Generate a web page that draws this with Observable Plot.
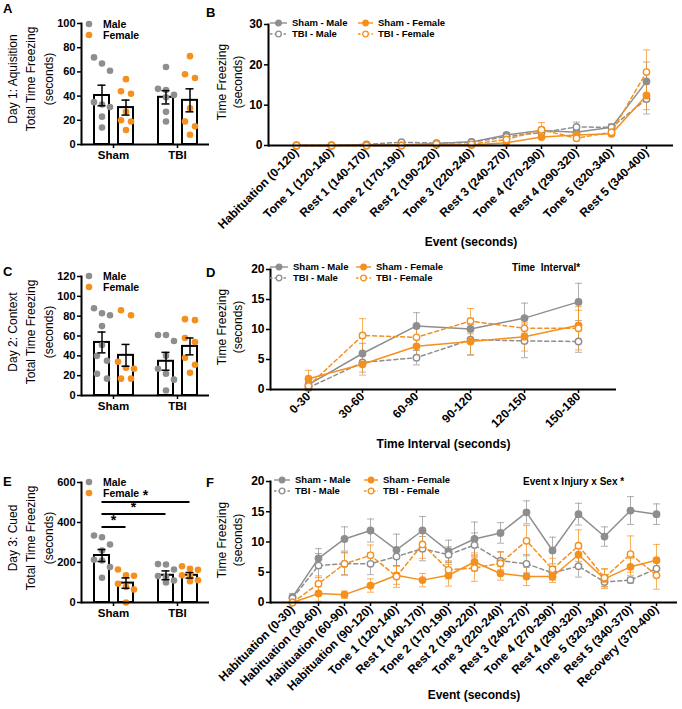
<!DOCTYPE html>
<html><head><meta charset="utf-8">
<script src="https://cdn.jsdelivr.net/npm/d3@7"></script>
<script src="https://cdn.jsdelivr.net/npm/@observablehq/plot@0.6"></script>
<style>
body{margin:0;background:#fff;}
#fig{position:relative;width:682px;height:709px;background:#fff;font-family:"Liberation Sans",Arial,sans-serif;overflow:hidden;color:#000}
.letter{position:absolute;font-weight:bold;font-size:13px;line-height:13px}
.leg{position:absolute;font-weight:bold;font-size:9.5px;line-height:10px;white-space:pre;display:flex;align-items:center}
.ytitle{position:absolute;transform:rotate(-90deg);text-align:center;font-size:12px;white-space:pre;}
</style></head><body><div id="fig"></div><script>
const GRAY = "#8e8e8e", ORANGE = "#f5901e";
const FONT = "'Liberation Sans', Arial, sans-serif";
const injuries = ["Sham", "TBI"];
const sexes = ["Male", "Female"];

// ---------- Panel A: Day 1 acquisition (total) ----------
const acqShamMale = [72, 67, 61, 35, 33, 31, 23, 14];
const acqShamFemale = [54, 44, 42, 27, 20, 19, 12];
const acqTbiMale = [64, 46, 45, 41, 39, 27, 19];
const acqTbiFemale = [73, 58, 55, 30, 19, 15, 8];
const acqMeans = [40.5, 30.5, 39, 36.5];   // Sham M, Sham F, TBI M, TBI F
const acqSems = [8.5, 6.2, 5.5, 9.5];
const acqTicks = [0, 20, 40, 60, 80, 100];

// ---------- Panel C: Day 2 context (total) ----------
const ctxShamMale = [88, 83, 81, 70, 51, 40, 35, 22, 17];
const ctxShamFemale = [86, 81, 34, 28, 27, 17, 17];
const ctxTbiMale = [61, 61, 55, 40, 27, 22, 16, 5];
const ctxTbiFemale = [77, 76, 58, 54, 38, 31, 23];
const ctxMeans = [53.5, 40.5, 34.5, 49.5];
const ctxSems = [10.5, 11, 9, 8.5];
const ctxTicks = [0, 20, 40, 60, 80, 100, 120];

// ---------- Panel E: Day 3 cued (total) ----------
const cueShamMale = [335, 326, 290, 260, 214, 210, 177, 124];
const cueShamFemale = [165, 136, 134, 94, 78, 65, 0];
const cueTbiMale = [192, 190, 165, 132, 128, 110, 100];
const cueTbiFemale = [181, 169, 164, 136, 134, 111, 106];
const cueMeans = [235, 97, 136, 136];
const cueSems = [30, 26, 22, 14];
const cueTicks = [0, 200, 400, 600];
const cueSigLevels = [375, 440, 500];          // y levels of the comparison bars
const cueSigTargets = [["Sham", "Female"], ["TBI", "Male"], ["TBI", "Female"]];

// ---------- Panel B: Day 1 by event ----------
const acqEvents = ["Habituation (0-120)", "Tone 1 (120-140)", "Rest 1 (140-170)", "Tone 2 (170-190)", "Rest 2 (190-220)", "Tone 3 (220-240)", "Rest 3 (240-270)", "Tone 4 (270-290)", "Rest 4 (290-320)", "Tone 5 (320-340)", "Rest 5 (340-400)"];
const evShamMale = [0, 0, 0.2, 0.1, 0.5, 0.9, 2.6, 3.7, 3.3, 4.5, 15.9];
const evShamMaleSem = [0, 0, 0.1, 0.1, 0.2, 0.3, 0.5, 0.8, 0.8, 0.8, 4.8];
const evTbiMale = [0, 0, 0.3, 0.8, 0.6, 0.8, 2.2, 3.2, 4.6, 4.5, 11.5];
const evTbiMaleSem = [0, 0, 0.1, 0.3, 0.2, 0.3, 0.5, 0.8, 1.2, 0.8, 3.7];
const evShamFemale = [0, 0, 0, 0, 0.2, 0.1, 0.7, 2.1, 2.6, 2.9, 12.4];
const evShamFemaleSem = [0, 0, 0, 0, 0.1, 0.1, 0.3, 0.5, 0.5, 0.5, 3.5];
const evTbiFemale = [0, 0, 0, 0, 0.4, 0.3, 1.5, 3.9, 1.8, 3.3, 18.2];
const evTbiFemaleSem = [0, 0, 0, 0, 0.2, 0.1, 0.5, 1.8, 0.5, 0.8, 5.5];
const acqYTicks = [0, 10, 20, 30];

// ---------- Panel D: Day 2 by time interval ----------
const intervals = ["0-30", "30-60", "60-90", "90-120", "120-150", "150-180"];
const tiShamMale = [0.8, 6.0, 10.6, 10.1, 11.9, 14.6];
const tiShamMaleSem = [0.5, 1.7, 2.2, 1.8, 2.5, 3.1];
const tiTbiMale = [0.3, 4.5, 5.3, 8.3, 8.1, 8.0];
const tiTbiMaleSem = [0.4, 1.6, 1.2, 2.5, 2.8, 1.8];
const tiShamFemale = [1.8, 4.2, 7.2, 8.0, 8.8, 10.7];
const tiShamFemaleSem = [1.4, 1.8, 1.5, 2.3, 2.4, 2.5];
const tiTbiFemale = [0.6, 9.0, 8.7, 11.4, 10.2, 10.2];
const tiTbiFemaleSem = [0.8, 2.8, 1.6, 2.1, 1.4, 3.6];
const ctxYTicks = [0, 5, 10, 15, 20];

// ---------- Panel F: Day 3 by event ----------
const cueEvents = ["Habituation (0-30)", "Habituation (30-60)", "Habituation (60-90)", "Habituation (90-120)", "Tone 1 (120-140)", "Rest 1 (140-170)", "Tone 2 (170-190)", "Rest 2 (190-220)", "Tone 3 (220-240)", "Rest 3 (240-270)", "Tone 4 (270-290)", "Rest 4 (290-320)", "Tone 5 (320-340)", "Rest 5 (340-370)", "Recovery (370-400)"];
const ceShamMale = [0.9, 7.3, 10.5, 11.9, 8.7, 11.9, 8.5, 10.5, 11.5, 14.9, 8.6, 14.6, 10.9, 15.2, 14.6];
const ceShamMaleSem = [0.6, 1.6, 2.0, 1.9, 2.6, 2.3, 1.8, 2.8, 1.7, 1.9, 2.2, 1.8, 1.6, 2.3, 1.7];
const ceTbiMale = [0.7, 6.1, 6.4, 6.4, 7.6, 8.9, 7.9, 9.5, 6.9, 6.4, 4.9, 6.0, 3.4, 3.7, 5.6];
const ceTbiMaleSem = [0.5, 2.0, 1.8, 1.8, 1.5, 2.0, 1.3, 2.0, 1.5, 1.5, 1.0, 1.8, 0.8, 0.5, 1.0];
const ceShamFemale = [0, 1.5, 1.3, 2.8, 4.5, 3.7, 4.5, 6.7, 4.8, 4.3, 4.3, 7.9, 3.9, 5.9, 7.0];
const ceShamFemaleSem = [0.2, 1.3, 0.6, 1.1, 1.5, 1.1, 1.8, 1.5, 1.1, 1.5, 1.0, 1.7, 1.6, 1.4, 2.6];
const ceTbiFemale = [0, 3.1, 6.4, 7.8, 4.3, 9.6, 5.4, 5.7, 6.5, 10.2, 5.5, 9.4, 4.1, 8.0, 4.5];
const ceTbiFemaleSem = [0.2, 1.3, 1.9, 1.7, 1.8, 2.3, 1.5, 2.2, 1.8, 2.5, 1.8, 2.6, 1.5, 3.0, 2.3];

const seriesNames = ["Sham - Male", "TBI - Male", "Sham - Female", "TBI - Female"];
const seriesStyles = [
  {color: GRAY, dashed: false, open: false},
  {color: GRAY, dashed: true, open: true},
  {color: ORANGE, dashed: false, open: false},
  {color: ORANGE, dashed: true, open: true}
];

const fig = document.getElementById("fig");
function place(el, left, top) {
  el.style.position = "absolute"; el.style.left = left + "px"; el.style.top = top + "px";
  fig.appendChild(el); return el;
}
function letter(ch, x, y) {
  const d = document.createElement("div"); d.className = "letter"; d.textContent = ch; place(d, x, y);
}
function note(text, x, y) {
  const d = document.createElement("div"); d.className = "leg"; d.style.fontSize = "10px"; d.textContent = text; place(d, x, y - 5);
}
function yTitle(text, cx, cy, lh) {
  const n = text.split("\n").length, W = 170, H = n * lh;
  const d = document.createElement("div"); d.className = "ytitle"; d.textContent = text;
  d.style.width = W + "px"; d.style.height = H + "px"; d.style.lineHeight = lh + "px";
  place(d, cx - W / 2, cy - H / 2);
}
function dotKey(x, y, color, label) {
  const d = document.createElement("div"); d.className = "leg";
  const s = d3.create("svg").attr("width", 8).attr("height", 10);
  s.append("circle").attr("cx", 4).attr("cy", 5).attr("r", 3.3).attr("fill", color);
  d.append(s.node());
  const t = document.createElement("span"); t.textContent = label; t.style.marginLeft = "10px"; t.style.fontSize = "10.5px";
  d.append(t);
  place(d, x - 4, y - 5);
}
function lineKey(x, y, st, label, w) {
  const d = document.createElement("div"); d.className = "leg";
  const s = d3.create("svg").attr("width", w).attr("height", 10);
  s.append("line").attr("x1", 0).attr("x2", w).attr("y1", 5).attr("y2", 5)
    .attr("stroke", st.color).attr("stroke-width", 1.4).attr("stroke-dasharray", st.dashed ? "2.5,2" : null);
  s.append("circle").attr("cx", w / 2).attr("cy", 5).attr("r", 2.8)
    .attr("fill", st.open ? "white" : st.color).attr("stroke", st.color).attr("stroke-width", 1.3);
  d.append(s.node());
  const t = document.createElement("span"); t.textContent = label; t.style.marginLeft = "5px";
  d.append(t);
  place(d, x, y - 5);
}

const baseStyle = {fontFamily: FONT, fontSize: "11px", fontWeight: "bold", color: "black", background: "transparent", overflow: "visible"};
const capSymbol = {draw(ctx) { ctx.moveTo(-3.5, 0); ctx.lineTo(3.5, 0); }};

function barPanel(cfg) {
  const {left, top, height, marginTop, marginBottom, yMax, yTicks, dots, means, sems} = cfg;
  const width = 215, marginLeft = 81, marginRight = 6;
  const keys = [["Sham", "Male"], ["Sham", "Female"], ["TBI", "Male"], ["TBI", "Female"]];
  const summary = keys.map(([injury, sex], i) => ({injury, sex, mean: means[i], sem: sems[i]}));
  const pxPerUnit = (height - marginTop - marginBottom) / yMax;
  const thr = 7.5 / pxPerUnit;
  const pts = [];
  const spreads = {1: [0], 2: [-5, 5], 3: [-8, 0, 8]};
  keys.forEach(([injury, sex], i) => {
    const vals = [...dots[i]].sort((a, b) => b - a);
    let cl = [];
    const flush = () => { const o = spreads[cl.length]; cl.forEach((v, j) => pts.push({injury, sex, value: v, off: o[j]})); cl = []; };
    vals.forEach(v => { if (cl.length && (cl[cl.length - 1] - v >= thr || cl.length === 3)) flush(); cl.push(v); });
    flush();
  });
  const offs = [...new Set(pts.map(p => p.off))];
  const plot = Plot.plot({
    width, height, marginLeft, marginRight, marginTop, marginBottom,
    style: baseStyle,
    fx: {domain: injuries, paddingInner: 0, paddingOuter: 0, label: null},
    x: {domain: sexes, paddingInner: 0.375, paddingOuter: 0.52, axis: null},
    y: {domain: [0, yMax], label: null},
    color: {domain: sexes, range: [GRAY, ORANGE]},
    marks: [
      Plot.axisY({ticks: yTicks, tickSize: 4, tickPadding: 2, strokeWidth: 1.5, label: null}),
      Plot.axisFx({anchor: "bottom", tickSize: 4, tickPadding: 2, strokeWidth: 1.5, label: null, fontSize: 11.5}),
      Plot.barY(summary, {fx: "injury", x: "sex", y1: 0, y2: "mean", fill: "white", stroke: "black", strokeWidth: 2}),
      ...offs.map(o => Plot.dot(pts.filter(p => p.off === o), {fx: "injury", x: "sex", y: "value", r: 3.3, fill: "sex", dx: o})),
      Plot.ruleX(summary, {fx: "injury", x: "sex", y1: d => d.mean - d.sem, y2: d => d.mean + d.sem, stroke: "black", strokeWidth: 1.5}),
      Plot.tickY(summary, {fx: "injury", x: "sex", y: d => d.mean + d.sem, insetLeft: 3.5, insetRight: 3.5, stroke: "black", strokeWidth: 1.5}),
      Plot.tickY(summary, {fx: "injury", x: "sex", y: d => d.mean - d.sem, insetLeft: 3.5, insetRight: 3.5, stroke: "black", strokeWidth: 1.5}),
      Plot.ruleY([0], {stroke: "black", strokeWidth: 2}),
      Plot.frame({anchor: "left", stroke: "black", strokeWidth: 2, facetAnchor: "left"})
    ]
  });
  const div = document.createElement("div"); div.append(plot); place(div, left, top);
  return plot;
}

function linePanel(cfg) {
  const {left, top, height, marginTop, marginBottom, marginLeft, marginRight, cats, padding, yMax, yTicks, series, xLabel, labelDy} = cfg;
  const width = 682 - left;
  const marks = [
    Plot.axisY({ticks: yTicks, tickSize: 4, tickPadding: 2, strokeWidth: 1.5, label: null, fontSize: 12}),
    Plot.axisX({tickRotate: -45, tickSize: 4, tickPadding: 1, strokeWidth: 1.5, label: null, fontSize: 12})
  ];
  const recsAll = series.map(s => cats.map((c, i) => ({cat: c, v: s.values[i], e: s.sems[i]})));
  series.forEach((s, k) => {
    const st = seriesStyles[k], recs = recsAll[k];
    const errStyle = {stroke: st.color, strokeWidth: 1, strokeOpacity: 0.7};
    marks.push(
      Plot.ruleX(recs, {x: "cat", y1: d => d.v - d.e, y2: d => d.v + d.e, ...errStyle}),
      Plot.dot(recs, {x: "cat", y: d => d.v + d.e, symbol: capSymbol, fill: "none", ...errStyle}),
      Plot.dot(recs, {x: "cat", y: d => d.v - d.e, symbol: capSymbol, fill: "none", ...errStyle})
    );
  });
  series.forEach((s, k) => {
    const st = seriesStyles[k], recs = recsAll[k];
    marks.push(
      Plot.line(recs, {x: "cat", y: "v", stroke: st.color, strokeWidth: 1.5, strokeDasharray: st.dashed ? "4,3" : null}),
      Plot.dot(recs, {x: "cat", y: "v", r: 3.2, fill: st.open ? "white" : st.color, stroke: st.color, strokeWidth: 1.4})
    );
  });
  marks.push(
    Plot.ruleY([0], {stroke: "black", strokeWidth: 2}),
    Plot.frame({anchor: "left", stroke: "black", strokeWidth: 2}),
    Plot.text([xLabel], {frameAnchor: "bottom", dy: labelDy, fontSize: 12, fontWeight: "bold"})
  );
  const plot = Plot.plot({
    width, height, marginLeft, marginRight, marginTop, marginBottom,
    style: baseStyle,
    x: {type: "point", domain: cats, padding},
    y: {domain: [0, yMax], label: null},
    marks
  });
  const div = document.createElement("div"); div.append(plot); place(div, left, top);
  return plot;
}

// ----- Bar panels -----
barPanel({left: 0, top: 0, height: 175, marginTop: 23, marginBottom: 31, yMax: 100, yTicks: acqTicks,
  dots: [acqShamMale, acqShamFemale, acqTbiMale, acqTbiFemale], means: acqMeans, sems: acqSems});
barPanel({left: 0, top: 250, height: 175, marginTop: 26, marginBottom: 30, yMax: 120, yTicks: ctxTicks,
  dots: [ctxShamMale, ctxShamFemale, ctxTbiMale, ctxTbiFemale], means: ctxMeans, sems: ctxSems});
const plotE = barPanel({left: 0, top: 460, height: 175, marginTop: 22, marginBottom: 33, yMax: 600, yTicks: cueTicks,
  dots: [cueShamMale, cueShamFemale, cueTbiMale, cueTbiFemale], means: cueMeans, sems: cueSems});

// significance bars in E, positioned with the plot's own scales
{
  const fx = plotE.scale("fx"), x = plotE.scale("x"), y = plotE.scale("y");
  const cx = (inj, sex) => fx.apply(inj) + x.apply(sex) - x.range[0] + x.bandwidth / 2;
  const g = d3.select(plotE).append("g");
  cueSigTargets.forEach(([inj, sex], i) => {
    const x1 = cx("Sham", "Male"), x2 = cx(inj, sex), yy = y.apply(cueSigLevels[i]);
    g.append("line").attr("x1", x1).attr("x2", x2).attr("y1", yy).attr("y2", yy).attr("stroke", "black").attr("stroke-width", 2);
    g.append("text").attr("x", (x1 + x2) / 2).attr("y", yy - 2).attr("text-anchor", "middle")
      .attr("font-size", 14).attr("font-weight", "bold").text("*");
  });
}

// ----- Line panels -----
linePanel({left: 200, top: 0, height: 255, marginTop: 24, marginBottom: 110, marginLeft: 68, marginRight: 9,
  cats: acqEvents, padding: 0.67, yMax: 30, yTicks: acqYTicks, xLabel: "Event (seconds)", labelDy: 100,
  series: [
    {values: evShamMale, sems: evShamMaleSem}, {values: evTbiMale, sems: evTbiMaleSem},
    {values: evShamFemale, sems: evShamFemaleSem}, {values: evTbiFemale, sems: evTbiFemaleSem}]});
linePanel({left: 200, top: 250, height: 200, marginTop: 19, marginBottom: 61, marginLeft: 70, marginRight: 66,
  cats: intervals, padding: 0.67, yMax: 20, yTicks: ctxYTicks, xLabel: "Time Interval (seconds)", labelDy: 58,
  series: [
    {values: tiShamMale, sems: tiShamMaleSem}, {values: tiTbiMale, sems: tiTbiMaleSem},
    {values: tiShamFemale, sems: tiShamFemaleSem}, {values: tiTbiFemale, sems: tiTbiFemaleSem}]});
linePanel({left: 200, top: 460, height: 249, marginTop: 21, marginBottom: 107, marginLeft: 70, marginRight: 5,
  cats: cueEvents, padding: 0.7, yMax: 20, yTicks: ctxYTicks, xLabel: "Event (seconds)", labelDy: 96,
  series: [
    {values: ceShamMale, sems: ceShamMaleSem}, {values: ceTbiMale, sems: ceTbiMaleSem},
    {values: ceShamFemale, sems: ceShamFemaleSem}, {values: ceTbiFemale, sems: ceTbiFemaleSem}]});

// ----- Axis titles -----
yTitle("Day 1: Aquisition\nTotal Time Freezing\n(seconds)", 31, 79, 18);
yTitle("Day 2: Context\nTotal Time Freezing\n(seconds)", 31, 332, 18);
yTitle("Day 3: Cued\nTotal Time Freezing\n(seconds)", 31, 538, 18);
yTitle("Time Freezing\n(seconds)", 230, 82, 16);
yTitle("Time Freezing\n(seconds)", 230, 327, 16);
yTitle("Time Freezing\n(seconds)", 230, 540, 16);

// ----- Letters, legends, notes -----
letter("A", 3, 2); letter("B", 206, 6);
letter("C", 3, 265); letter("D", 206, 266);
letter("E", 3, 475); letter("F", 206, 476);

[[24, 35], [276, 287], [482, 493]].forEach(([y1, y2]) => {
  dotKey(89, y1, GRAY, sexes[0]);
  dotKey(89, y2, ORANGE, sexes[1]);
});

lineKey(270, 23, seriesStyles[0], seriesNames[0], 17);
lineKey(270, 34, seriesStyles[1], seriesNames[1], 17);
lineKey(358, 23, seriesStyles[2], seriesNames[2], 15);
lineKey(358, 34, seriesStyles[3], seriesNames[3], 15);

lineKey(270, 267, seriesStyles[0], seriesNames[0], 18);
lineKey(270, 278, seriesStyles[1], seriesNames[1], 18);
lineKey(356, 267, seriesStyles[2], seriesNames[2], 15);
lineKey(356, 278, seriesStyles[3], seriesNames[3], 15);
note("Time  Interval*", 512, 268);

lineKey(274, 480, seriesStyles[0], seriesNames[0], 16);
lineKey(274, 491, seriesStyles[1], seriesNames[1], 16);
lineKey(364, 480, seriesStyles[2], seriesNames[2], 14);
lineKey(364, 491, seriesStyles[3], seriesNames[3], 14);
note("Event x Injury x Sex *", 523, 482);
</script></body></html>
